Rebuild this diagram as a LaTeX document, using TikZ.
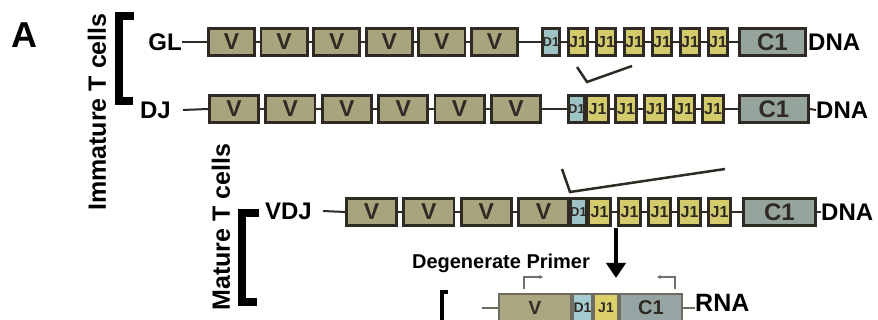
\documentclass[tikz,border=0pt]{standalone}
\usepackage{fontspec}
\setmainfont{Liberation Sans}
\usetikzlibrary{arrows.meta}
\definecolor{vcol}{HTML}{A8A47E}
\definecolor{jcol}{HTML}{D3CB6C}
\definecolor{dcol}{HTML}{9DC3C5}
\definecolor{ccol}{HTML}{95A49C}
\definecolor{boxline}{HTML}{2F2B24}
\definecolor{vcolb}{HTML}{ABA681}
\definecolor{jcolb}{HTML}{DCD06A}
\definecolor{dcolb}{HTML}{A5CBD3}
\definecolor{ccolb}{HTML}{95A5A3}
\definecolor{lineb}{HTML}{6F6D62}
\definecolor{primcol}{HTML}{707070}
\newcommand{\fsz}[1]{\fontsize{#1}{#1}\selectfont\bfseries}
\begin{document}
\begin{tikzpicture}[x=1pt,y=-1pt,
  gene/.style={draw=boxline, line width=2.8pt, inner sep=0pt, minimum height=27.2pt, text=boxline},
  vbox/.style={gene, fill=vcol, font=\fsz{23}},
  dbox/.style={gene, fill=dcol, font=\fsz{13}},
  jbox/.style={gene, fill=jcol, font=\fsz{16}},
  cbox/.style={gene, fill=ccol, font=\fsz{24}},
  geneb/.style={draw=lineb, line width=1.8pt, inner sep=0pt, minimum height=28.2pt, text=boxline},
  vboxb/.style={geneb, fill=vcolb, font=\fsz{19}},
  dboxb/.style={geneb, fill=dcolb, font=\fsz{14}},
  jboxb/.style={geneb, fill=jcolb, font=\fsz{14}},
  cboxb/.style={geneb, fill=ccolb, font=\fsz{20}},
  conn/.style={draw=boxline, line width=2pt},
  connb/.style={draw=lineb, line width=1.8pt},
  lab/.style={inner sep=0pt, font=\fsz{24}},
  bracketline/.style={draw=black, line width=8pt, miter limit=10},
  wedge/.style={draw=boxline, line width=2.5pt},
  primer/.style={draw=primcol, line width=1.2pt, -{Stealth[length=4pt,width=4pt]}}
]
\clip (0,0) rectangle (878,320);
\fill[white] (0,0) rectangle (878,320);

% panel letter and side labels
\node[inner sep=0pt, font=\fsz{36}] (pA) at (24,35) {A};
\node[inner sep=0pt, font=\fsz{25}, rotate=90] (imm) at (97,112) {Immature T cells};
\node[inner sep=0pt, font=\fsz{25}, rotate=90] (mat) at (221,227) {Mature T cells};

% brackets
\coordinate (b1a) at (134,16.5);
\coordinate (b1b) at (119,16.5);
\coordinate (b1c) at (119,101);
\coordinate (b1d) at (133,101);
\draw[bracketline] (b1a) -- (b1b) -- (b1c) -- (b1d);
\coordinate (b2a) at (259,213.5);
\coordinate (b2b) at (242,213.5);
\coordinate (b2c) at (242,302.5);
\coordinate (b2d) at (257,302.5);
\draw[bracketline] (b2a) -- (b2b) -- (b2c) -- (b2d);
\coordinate (b3a) at (448,292);
\coordinate (b3b) at (442,292);
\coordinate (b3c) at (442,330);
\draw[draw=black, line width=4.5pt, miter limit=10] (b3a) -- (b3b) -- (b3c);

% ---------- Row 1: GL ----------
\node[lab, anchor=east] (gl) at (182,42) {GL};
\foreach \n/\x in {1/231.5,2/284.1,3/336.7,4/389.3,5/441.9,6/494.5}
  \node[vbox, minimum width=46.2pt] (v1\n) at (\x,42) {V};
\node[dbox, minimum width=15.2pt] (d1) at (551,42) {D1};
\foreach \n/\x in {1/578,2/606,3/634,4/662,5/690,6/718}
  \node[jbox, minimum width=19.2pt] (j1\n) at (\x,42) {J1};
\node[cbox, minimum width=66.2pt] (c1) at (772.5,42) {C1};
\node[lab, anchor=west] (dna1) at (808,42) {DNA};
\draw[conn] (gl.east) -- (v11.west);
\foreach \a/\b in {v11/v12,v12/v13,v13/v14,v14/v15,v15/v16,v16/d1,d1/j11,j11/j12,j12/j13,j13/j14,j14/j15,j15/j16,j16/c1}
  \draw[conn] (\a.east) -- (\b.west);
\coordinate (w1a) at (577,67);
\coordinate (w1b) at (587,82);
\coordinate (w1c) at (632,66);
\draw[wedge] (w1a) -- (w1b) -- (w1c);

% ---------- Row 2: DJ ----------
\node[lab, anchor=east] (dj) at (171,110) {DJ};
\foreach \n/\x in {1/234,2/290.4,3/346.8,4/403.2,5/459.6,6/516}
  \node[vbox, minimum width=49.2pt] (v2\n) at (\x,109) {V};
\node[dbox, minimum width=14.2pt] (d2) at (576.5,109) {D1};
\node[jbox, minimum width=22.2pt] (j21) at (597.5,109) {J1};
\foreach \n/\x in {2/626,3/655,4/684,5/713}
  \node[jbox, minimum width=21.2pt] (j2\n) at (\x,109) {J1};
\node[cbox, minimum width=69.2pt] (c2) at (774,109) {C1};
\node[lab, anchor=west] (dna2) at (816,110) {DNA};
\draw[conn] ([xshift=12pt]dj.east) -- (v21.west);
\foreach \a/\b in {v21/v22,v22/v23,v23/v24,v24/v25,v25/v26,v26/d2,j21/j22,j22/j23,j23/j24,j24/j25,j25/c2,c2/dna2}
  \draw[conn] (\a.east) -- (\b.west);

% ---------- Row 3: VDJ ----------
\node[lab, anchor=east] (vdj) at (312,211) {VDJ};
\foreach \n/\x in {1/371.5,2/428.8,3/486.2,4/543.5}
  \node[vbox, minimum width=50.2pt] (v3\n) at (\x,212) {V};
\node[dbox, minimum width=14.2pt] (d3) at (578.5,212) {D1};
\foreach \n/\x in {1/599.5,2/629.5,3/659.5,4/689.5,5/719.5}
  \node[jbox, minimum width=22.2pt] (j3\n) at (\x,212) {J1};
\node[cbox, minimum width=72.2pt] (c3) at (779.5,212) {C1};
\node[lab, anchor=west] (dna3) at (821,212) {DNA};
\draw[conn] ([xshift=11pt]vdj.east) -- (v31.west);
\foreach \a/\b in {v31/v32,v32/v33,v33/v34,j31/j32,j32/j33,j33/j34,j34/j35,j35/c3,c3/dna3}
  \draw[conn] (\a.east) -- (\b.west);
\coordinate (w3a) at (562,169);
\coordinate (w3b) at (570,192);
\coordinate (w3c) at (725,169);
\draw[wedge] (w3a) -- (w3b) -- (w3c);

% big arrow
\coordinate (arS) at (616,228);
\coordinate (arE) at (616,278);
\draw[line width=4.5pt, -{Triangle[length=15pt,width=19pt]}] (arS) -- (arE);

\node[inner sep=0pt, font=\fsz{20}] (deg) at (501,263) {Degenerate Primer};

% ---------- Row 4: RNA ----------
\node[vboxb, minimum width=72.2pt] (v4) at (535,308) {V};
\node[dboxb, minimum width=19.2pt] (d4) at (582.5,308) {D1};
\node[jboxb, minimum width=24.2pt] (j4) at (606,308) {J1};
\node[cboxb, minimum width=62.2pt] (c4) at (651,308) {C1};
\node[lab, anchor=west, font=\fsz{25}] (rna) at (695,303) {RNA};
\coordinate (r4l) at (482,308);
\draw[connb] (r4l) -- (v4.west);
\draw[connb] (c4.east) -- (c4.east -| rna.west);

% primers
\coordinate (p1a) at (524,289);
\coordinate (p1b) at (524,277);
\coordinate (p1c) at (543,277);
\draw[primer] (p1a) -- (p1b) -- (p1c);
\coordinate (p2a) at (675,289);
\coordinate (p2b) at (675,277);
\coordinate (p2c) at (657,277);
\draw[primer] (p2a) -- (p2b) -- (p2c);
\end{tikzpicture}
\end{document}
